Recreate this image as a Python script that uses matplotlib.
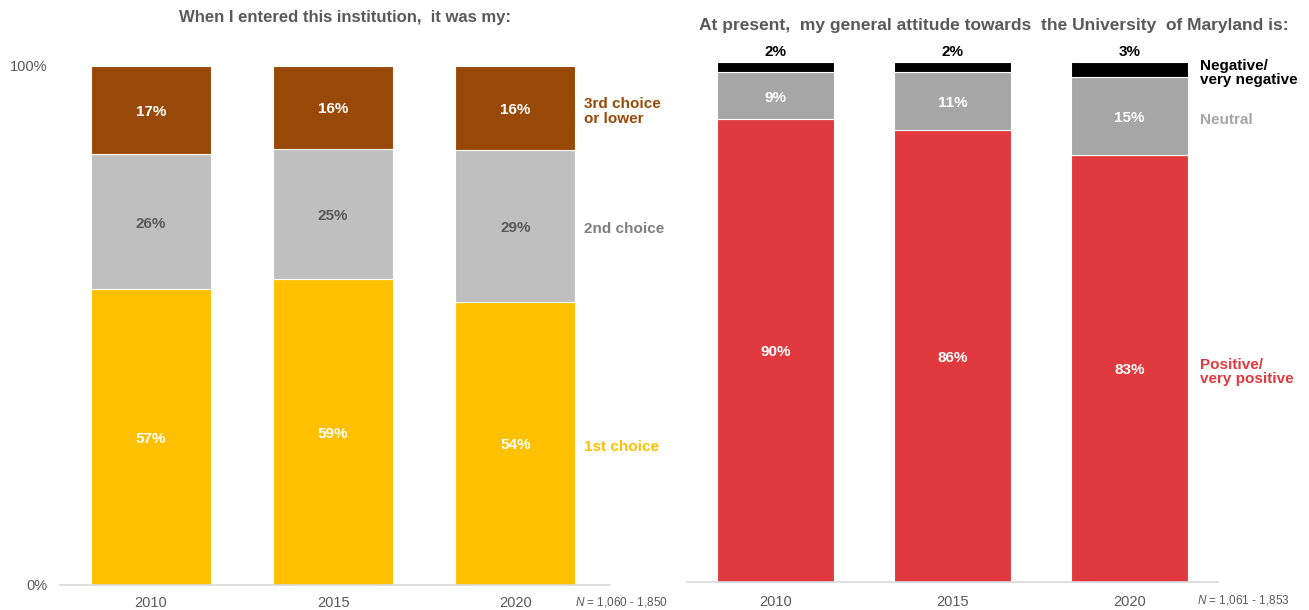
import numpy as np
import matplotlib
matplotlib.use("Agg")
import matplotlib.pyplot as plt

plt.rcParams['font.family'] = ['Liberation Sans', 'DejaVu Sans']
plt.rcParams['mathtext.fontset'] = 'custom'
plt.rcParams['mathtext.it'] = 'Liberation Sans:italic'
plt.rcParams['mathtext.rm'] = 'Liberation Sans'

years = ['2010', '2015', '2020']

# left panel: choice of institution
first_choice = [57, 59, 54]
second_choice = [26, 25, 29]
third_choice = [17, 16, 16]

# right panel: attitude towards UMD
positive = [90, 86, 83]
neutral = [9, 11, 15]
negative = [2, 2, 3]

GRAY_TXT = '#595959'

fig = plt.figure(figsize=(13.09, 6.10), dpi=100)
ax1 = fig.add_axes([0.0458, 0.041, 0.4202, 0.851])
ax2 = fig.add_axes([0.5248, 0.0459, 0.4057, 0.8525])

x = np.arange(len(years))
w = 0.66


def style_axis(ax, xmax):
    ax.set_xlim(-0.5, xmax)
    ax.set_ylim(0, 100)
    for s in ['top', 'right', 'left']:
        ax.spines[s].set_visible(False)
    ax.spines['bottom'].set_color('#D9D9D9')
    ax.spines['bottom'].set_linewidth(1.2)
    ax.set_xticks(x)
    ax.set_xticklabels(years, fontsize=10.5, color=GRAY_TXT)


def stacked(ax, series, label_x):
    # bars are scaled so each column fills 100% (rounded values don't always add up)
    totals = sum(np.array(s[0], dtype=float) for s in series)
    bottom = np.zeros(len(years))
    for vals, col, tcol, name, lcol in series:
        raw = np.array(vals, dtype=float)
        h = raw / totals * 100
        ax.bar(x, h, w, bottom=bottom, color=col, edgecolor='white', linewidth=0.8)
        for xi, b, hh, v in zip(x, bottom, h, raw):
            if tcol is None:
                ax.annotate(f'{int(v)}%', (xi, b + hh), xytext=(0, 7.5),
                            textcoords='offset points', ha='center', va='center',
                            fontsize=11, fontweight='bold', color='black',
                            annotation_clip=False)
            else:
                ax.annotate(f'{int(v)}%', (xi, b + hh / 2), xytext=(0, -1.5),
                            textcoords='offset points', ha='center', va='center',
                            fontsize=11, fontweight='bold', color=tcol)
        ax.annotate(name, (label_x, bottom[-1] + h[-1] / 2), xytext=(0, -2.5),
                    textcoords='offset points', ha='left', va='center',
                    fontsize=11, fontweight='bold', color=lcol,
                    annotation_clip=False, linespacing=1.05)
        bottom += h


# ---- left panel ----
left_series = [
    (first_choice, '#FFC000', 'white', '1st choice', '#FFC000'),
    (second_choice, '#BFBFBF', GRAY_TXT, '2nd choice', '#7F7F7F'),
    (third_choice, '#984807', 'white', '3rd choice\nor lower', '#984807'),
]
stacked(ax1, left_series, 2.38)
style_axis(ax1, 2.52)
ax1.set_yticks([0, 100])
ax1.set_yticklabels(['0%', '100%'], fontsize=10.5, color=GRAY_TXT)
ax1.tick_params(axis='y', length=0, pad=9)
ax1.tick_params(axis='x', length=0, pad=8)

# ---- right panel ----
right_series = [
    (positive, '#E03A3E', 'white', 'Positive/\nvery positive', '#E03A3E'),
    (neutral, '#A6A6A6', 'white', 'Neutral', '#A6A6A6'),
    (negative, '#000000', None, 'Negative/\nvery negative', '#000000'),
]
stacked(ax2, right_series, 2.40)
style_axis(ax2, 2.5)
ax2.set_yticks([])
ax2.tick_params(axis='x', length=0, pad=9.5)

# titles and sample sizes
fig.text(0.2636, 0.971, 'When I entered this institution,  it was my:', ha='center',
         va='center', fontsize=12, fontweight='bold', color=GRAY_TXT)
fig.text(0.759, 0.959, 'At present,  my general attitude towards  the University  of Maryland is:',
         ha='center', va='center', fontsize=12.5, fontweight='bold', color=GRAY_TXT)
fig.text(0.439, 0.013, r'$\mathit{N}$ = 1,060 - 1,850', ha='left', va='center',
         fontsize=8.5, color=GRAY_TXT)
fig.text(0.9144, 0.0164, r'$\mathit{N}$ = 1,061 - 1,853', ha='left', va='center',
         fontsize=8.5, color=GRAY_TXT)

fig.savefig('out.png', dpi=100)
